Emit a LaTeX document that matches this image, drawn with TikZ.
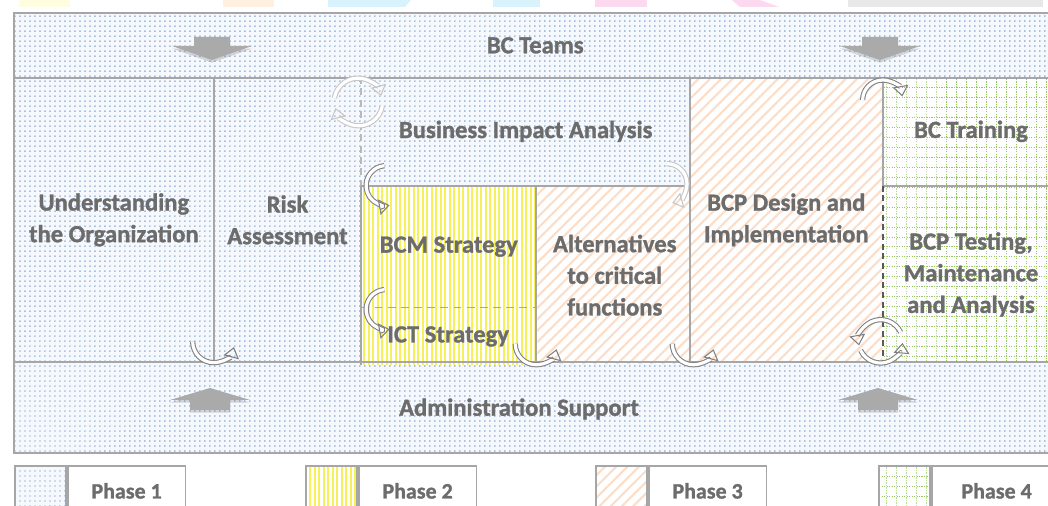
\documentclass[tikz,border=0pt]{standalone}
\usepackage{fontspec}
\setmainfont{Carlito}[BoldFeatures={FakeBold=1.2}]
\usetikzlibrary{positioning, patterns.meta, arrows.meta, shadows}

\definecolor{txtgray}{RGB}{108,108,108}
\definecolor{rulegray}{RGB}{166,166,166}
\definecolor{arrowgray}{RGB}{170,170,170}
\definecolor{turngray}{RGB}{128,128,128}
\definecolor{pbg}{RGB}{245,248,252}
\definecolor{pdot}{RGB}{85,125,180}
\definecolor{pyellow}{RGB}{246,240,90}
\definecolor{ppeach}{RGB}{251,222,202}
\definecolor{pgreen}{RGB}{150,200,100}

% dotted grid for phase 4
\pgfdeclarepattern{
  name=dotgrid,
  type=uncolored,
  bottom left={\pgfpoint{-0.1pt}{-0.1pt}},
  top right={\pgfpoint{5.77pt}{5.77pt}},
  tile size={\pgfpoint{5.67pt}{5.67pt}},
  code={
    \pgfsetlinewidth{0.55pt}
    \pgfsetdash{{0.709pt}{0.709pt}}{0pt}
    \pgfpathmoveto{\pgfpoint{0pt}{0pt}}
    \pgfpathlineto{\pgfpoint{5.67pt}{0pt}}
    \pgfpathmoveto{\pgfpoint{0pt}{0pt}}
    \pgfpathlineto{\pgfpoint{0pt}{5.67pt}}
    \pgfusepath{stroke}
  }
}

\begin{document}
\begin{tikzpicture}[
    x=0.02cm, y=-0.02cm,
    cell/.style={rectangle, inner sep=0pt, anchor=north west, align=center,
        text=txtgray, font=\fontsize{14}{18}\selectfont\bfseries},
    celltext/.style={inner sep=0pt, align=center, text=txtgray,
        font=\fontsize{14}{18}\selectfont\bfseries},
    phaseone/.style={preaction={fill=pbg}, pattern={Dots[distance=0.1cm, radius=0.42pt]}, pattern color=pdot},
    phasetwo/.style={preaction={fill=white}, pattern={Lines[angle=90, distance=0.09cm, line width=1.1pt]}, pattern color=pyellow},
    phasethree/.style={preaction={fill=white}, pattern={Lines[angle=45, distance=0.16cm, line width=1.2pt]}, pattern color=ppeach},
    phasefour/.style={preaction={fill=white}, pattern=dotgrid, pattern color=pgreen},
    rule/.style={draw=rulegray, line width=1pt},
    swatch/.style={rectangle, draw=rulegray, line width=1pt, anchor=north west,
        minimum width=1.02cm, minimum height=1cm},
    legendbox/.style={rectangle, draw=rulegray, line width=1pt, fill=white, anchor=north west,
        minimum width=2.36cm, minimum height=1cm, text=txtgray,
        font=\fontsize{12.5}{14}\selectfont\bfseries},
    blockarrow/.style={fill=arrowgray, drop shadow={shadow xshift=0pt, shadow yshift=-1.5pt, opacity=0.3, fill=gray}},
    turnarrow/.style={draw=turngray, double=white, double distance=1.8pt, line width=0.6pt,
        -{Triangle[open, length=6pt, width=9pt]}},
    faintarrow/.style={turnarrow, draw=gray!45}
]
\clip (0,0) rectangle (1048,506);

% pastel strip along the top edge
\fill[yellow!12] (19,0) rectangle (70,7);
\fill[orange!12] (223,0) rectangle (274,7);
\fill[cyan!15] (328,0) -- (411,0) -- (405,7) -- (328,7) -- cycle;
\fill[cyan!15] (493,0) rectangle (540,7);
\fill[magenta!15] (595,0) rectangle (647,7);
\fill[magenta!15] (732,0) -- (760,0) -- (779,7) -- (740,7) -- cycle;
\fill[black!9] (848,0) rectangle (896,7);
\fill[black!9] (896,0) -- (1043,0) -- (1043,7) -- (896,7) -- cycle;

% bands
\node[cell, phaseone, minimum width=20.84cm, minimum height=1.28cm] (teams) at (14,13) {BC Teams};
\node[cell, phaseone, minimum width=20.84cm, minimum height=1.8cm] (admin) at (14,362) {};
\node[celltext] (admintext) at (519,409) {Administration Support};

% phase cells
\node[cell, phaseone, minimum width=3.98cm, minimum height=5.7cm] (under) at (14,77) {Understanding\\the Organization};
\node[cell, phaseone, minimum width=2.94cm, minimum height=5.7cm, right=0cm of under.north east, anchor=north west] (risk) {Risk\\Assessment};
\node[cell, phaseone, minimum width=6.56cm, minimum height=2.16cm, right=0cm of risk.north east, anchor=north west] (bia) {Business Impact Analysis};
\node[cell, phasetwo, minimum width=3.46cm, minimum height=2.4cm, below=0cm of bia.south west, anchor=north west] (bcm) {BCM Strategy};
\node[cell, phasetwo, minimum width=3.46cm, minimum height=1.14cm, below=0cm of bcm.south west, anchor=north west] (ict) {ICT Strategy};
\node[cell, phasethree, minimum width=3.1cm, minimum height=3.54cm, right=0cm of bcm.north east, anchor=north west] (alt) {Alternatives\\to critical\\functions};
\node[cell, phasethree, minimum width=3.84cm, minimum height=5.7cm, right=0cm of bia.north east, anchor=north west] (design) {BCP Design and\\Implementation};
\node[cell, phasefour, minimum width=3.52cm, minimum height=2.16cm, right=0cm of design.north east, anchor=north west] (training) {BC Training};
\node[cell, phasefour, minimum width=3.52cm, minimum height=3.54cm, below=0cm of training.south west, anchor=north west] (testing) {BCP Testing,\\Maintenance\\and Analysis};

% frame and dividers
\draw[rule] (teams.north west) rectangle (admin.south east);
\draw[rule] (teams.south west) -- (teams.south east);
\draw[rule] (admin.north west) -- (admin.north east);
\draw[rule] (under.north east) -- (under.south east);
\draw[rule, draw=gray!55, dash pattern=on 4pt off 2.5pt] (bia.north west) -- (bia.south west);
\draw[rule] (bcm.north west) -- (ict.south west);
\draw[rule] (bia.south west) -- (bia.south east);
\draw[rule] (alt.north west) -- (alt.south west);
\draw[rule] (design.north west) -- (design.south west);
\draw[rule] (design.north east) -- (training.south west);
\draw[rule] (training.south west) -- (training.south east);
\draw[rule, draw=black!65, dash pattern=on 3.5pt off 2pt] (testing.north west) -- (testing.south west);
\draw[rule, draw=gray!70, dash pattern=on 4.5pt off 3pt] (ict.north west) -- (ict.north east);

% big grey arrows
\foreach \x in {212,880}
  \fill[blockarrow] (\x-18,37) -- (\x+18,37) -- (\x+18,46) -- (\x+40,46) -- (\x,60) -- (\x-40,46) -- (\x-18,46) -- cycle;
\foreach \x in {210,878}
  \fill[blockarrow] (\x-20,410) -- (\x+20,410) -- (\x+20,400) -- (\x+40,400) -- (\x,388) -- (\x-40,400) -- (\x-20,400) -- cycle;

% turning arrows between the steps
\draw[turnarrow] ([shift={(-21,-21)}]under.south east) arc[start angle=180, end angle=345, radius=0.42cm];
\draw[turnarrow] ([shift={(-21,-21)}]alt.south west) arc[start angle=180, end angle=345, radius=0.42cm];
\draw[turnarrow] ([shift={(-21,-21)}]alt.south east) arc[start angle=180, end angle=345, radius=0.42cm];
\draw[turnarrow] ([shift={(-20,23)}]design.north east) arc[start angle=180, end angle=10, radius=0.4cm];
\draw[turnarrow] ([shift={(23,-20)}]bcm.north west) arc[start angle=95, end angle=280, radius=0.4cm];
\draw[turnarrow] ([shift={(23,-18)}]ict.north west) arc[start angle=95, end angle=280, radius=0.4cm];
\draw[faintarrow] ([shift={(-23,-22)}]bia.south east) arc[start angle=90, end angle=-75, radius=0.4cm];
\draw[faintarrow] ([shift={(-27,21)}]bia.north west) arc[start angle=170, end angle=15, radius=0.48cm];
\draw[faintarrow] ([shift={(21,29)}]bia.north west) arc[start angle=-10, end angle=-165, radius=0.48cm];
\draw[turnarrow] ([shift={(18,-31)}]testing.south west) arc[start angle=25, end angle=190, radius=0.44cm];
\draw[turnarrow] ([shift={(-22,-13)}]testing.south west) arc[start angle=205, end angle=355, radius=0.44cm];

% legend
\node[swatch, phaseone] (sw1) at (14,465) {};
\node[legendbox, right=0cm of sw1.north east, anchor=north west] (lg1) {Phase 1};
\node[swatch, phasetwo] (sw2) at (305,465) {};
\node[legendbox, right=0cm of sw2.north east, anchor=north west] (lg2) {Phase 2};
\node[swatch, phasethree] (sw3) at (595,465) {};
\node[legendbox, right=0cm of sw3.north east, anchor=north west] (lg3) {Phase 3};
\node[swatch, phasefour] (sw4) at (878,465) {};
\node[legendbox, minimum width=2.6cm, right=0cm of sw4.north east, anchor=north west] (lg4) {Phase 4};
\end{tikzpicture}
\end{document}
